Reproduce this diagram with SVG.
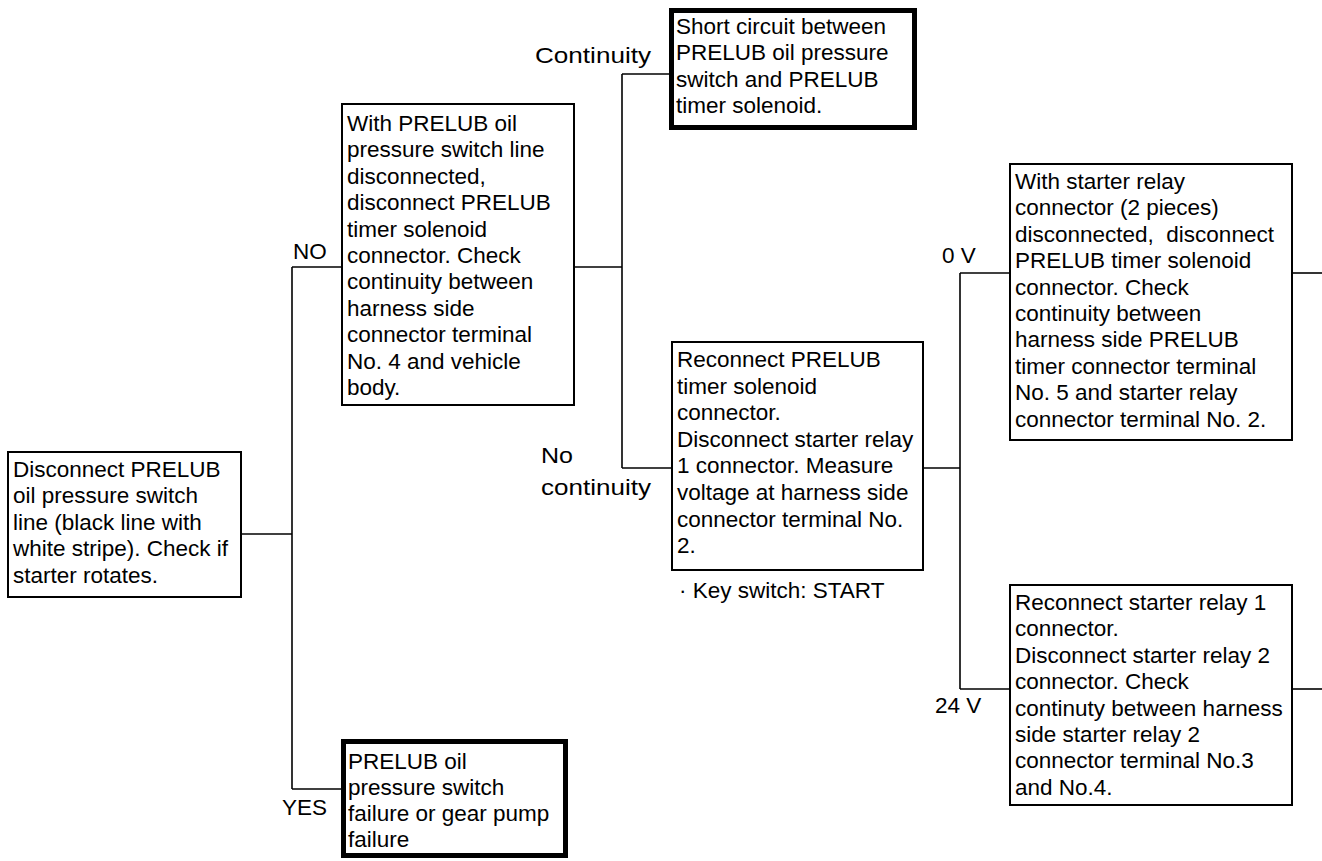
<svg xmlns="http://www.w3.org/2000/svg" width="1322" height="861" viewBox="0 0 1322 861">
<style>
  text { font-family: "Liberation Sans", Arial, sans-serif; font-size: 22.5px; fill: #000; white-space: pre; }
  .box { fill: #fff; stroke: #000; stroke-width: 2; }
  .thick { fill: #fff; stroke: #000; stroke-width: 5; }
  .conn line { stroke: #000; stroke-width: 1.6; }
</style>
<rect width="1322" height="861" fill="#fff"/>
<g id="connectors" class="conn">
  <line x1="241" y1="534" x2="292" y2="534"/>
  <line x1="292" y1="267" x2="292" y2="789"/>
  <line x1="292" y1="267" x2="342" y2="267"/>
  <line x1="292" y1="789" x2="341" y2="789"/>
  <line x1="574" y1="267" x2="622" y2="267"/>
  <line x1="622" y1="74" x2="622" y2="468"/>
  <line x1="622" y1="74" x2="669" y2="74"/>
  <line x1="622" y1="468" x2="672" y2="468"/>
  <line x1="923" y1="468" x2="960" y2="468"/>
  <line x1="960" y1="273" x2="960" y2="689"/>
  <line x1="960" y1="273" x2="1010" y2="273"/>
  <line x1="960" y1="689" x2="1010" y2="689"/>
  <line x1="1292" y1="273" x2="1322" y2="273"/>
  <line x1="1292" y1="689" x2="1322" y2="689"/>
</g>
<g id="labels">
  <text x="293" y="259">NO</text>
  <text x="282" y="815">YES</text>
  <text x="535" y="63" textLength="116" lengthAdjust="spacingAndGlyphs">Continuity</text>
  <text x="541" y="463" textLength="32" lengthAdjust="spacingAndGlyphs">No</text>
  <text x="541" y="495" textLength="110" lengthAdjust="spacingAndGlyphs">continuity</text>
  <text x="942" y="263">0 V</text>
  <text x="935" y="713">24 V</text>
  <text x="679" y="598">· Key switch: START</text>
</g>
<g id="node-start">
  <rect class="box" x="8" y="452" width="233" height="145"/>
  <text x="13" y="477">Disconnect PRELUB</text>
  <text x="13" y="503.4">oil pressure switch</text>
  <text x="13" y="529.8">line (black line with</text>
  <text x="13" y="556.2">white stripe). Check if</text>
  <text x="13" y="582.6">starter rotates.</text>
</g>
<g id="node-continuity-check">
  <rect class="box" x="342" y="104" width="232" height="301"/>
  <text x="347" y="131">With PRELUB oil</text>
  <text x="347" y="157.4">pressure switch line</text>
  <text x="347" y="183.8">disconnected,</text>
  <text x="347" y="210.2">disconnect PRELUB</text>
  <text x="347" y="236.6">timer solenoid</text>
  <text x="347" y="263">connector. Check</text>
  <text x="347" y="289.4">continuity between</text>
  <text x="347" y="315.8">harness side</text>
  <text x="347" y="342.2">connector terminal</text>
  <text x="347" y="368.6">No. 4 and vehicle</text>
  <text x="347" y="395">body.</text>
</g>
<g id="node-short-circuit">
  <rect class="thick" x="671.5" y="10.5" width="243" height="117"/>
  <text x="676" y="34">Short circuit between</text>
  <text x="676" y="60.4">PRELUB oil pressure</text>
  <text x="676" y="86.8">switch and PRELUB</text>
  <text x="676" y="113.2">timer solenoid.</text>
</g>
<g id="node-measure-voltage">
  <rect class="box" x="672" y="342" width="251" height="228"/>
  <text x="677" y="367">Reconnect PRELUB</text>
  <text x="677" y="393.6">timer solenoid</text>
  <text x="677" y="420.2">connector.</text>
  <text x="677" y="446.8">Disconnect starter relay</text>
  <text x="677" y="473.4">1 connector. Measure</text>
  <text x="677" y="500">voltage at harness side</text>
  <text x="677" y="526.6">connector terminal No.</text>
  <text x="677" y="553.2">2.</text>
</g>
<g id="node-zero-volt">
  <rect class="box" x="1010" y="164" width="282" height="276"/>
  <text x="1015" y="189">With starter relay</text>
  <text x="1015" y="215.4">connector (2 pieces)</text>
  <text x="1015" y="241.8">disconnected,  disconnect</text>
  <text x="1015" y="268.2">PRELUB timer solenoid</text>
  <text x="1015" y="294.6">connector. Check</text>
  <text x="1015" y="321">continuity between</text>
  <text x="1015" y="347.4">harness side PRELUB</text>
  <text x="1015" y="373.8">timer connector terminal</text>
  <text x="1015" y="400.2">No. 5 and starter relay</text>
  <text x="1015" y="426.6">connector terminal No. 2.</text>
</g>
<g id="node-24-volt">
  <rect class="box" x="1010" y="585" width="282" height="220"/>
  <text x="1015" y="610">Reconnect starter relay 1</text>
  <text x="1015" y="636.4">connector.</text>
  <text x="1015" y="662.8">Disconnect starter relay 2</text>
  <text x="1015" y="689.2">connector. Check</text>
  <text x="1015" y="715.6">continuty between harness</text>
  <text x="1015" y="742">side starter relay 2</text>
  <text x="1015" y="768.4">connector terminal No.3</text>
  <text x="1015" y="794.8">and No.4.</text>
</g>
<g id="node-switch-failure">
  <rect class="thick" x="343.5" y="741.5" width="222" height="114"/>
  <text x="348" y="769">PRELUB oil</text>
  <text x="348" y="795">pressure switch</text>
  <text x="348" y="821">failure or gear pump</text>
  <text x="348" y="847">failure</text>
</g>
</svg>
